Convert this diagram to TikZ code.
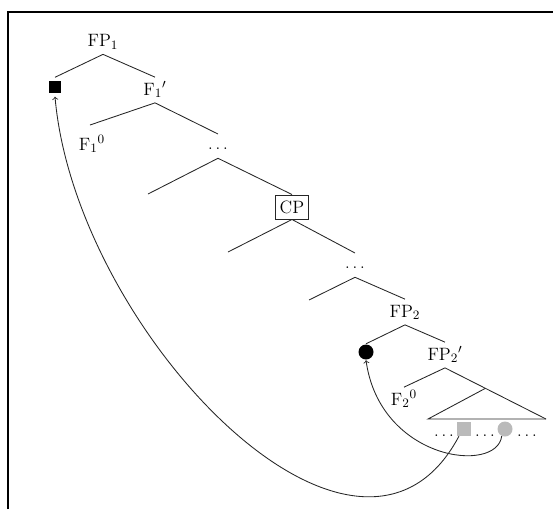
\documentclass[tikz,border=0pt]{standalone}
\begin{document}
\begin{tikzpicture}[x=0.7pt, y=-0.7pt, font=\fontsize{12.5}{15}\selectfont,
  lbl/.style={anchor=base, inner sep=2.3pt, text height=10pt, text depth=3pt},
  dotlbl/.style={anchor=base, inner sep=2.3pt, text height=8pt, text depth=4pt},
  branch/.style={black!85, line width=0.6pt},
  move/.style={black!85, line width=0.6pt, ->},
  blacksq/.style={fill=black, minimum size=9pt, inner sep=0pt, outer sep=2.3pt},
  blackdot/.style={circle, fill=black, minimum size=10.5pt, inner sep=0pt, outer sep=0.5pt},
  graysq/.style={fill=black!27, minimum size=9.8pt, inner sep=0pt},
  graydot/.style={circle, fill=black!27, minimum size=10.5pt, inner sep=0pt}]
\useasboundingbox (0,0) rectangle (553,509);
\draw[line width=1.3pt] (8,509) -- (8,12) -- (553,12);
% upper tree
\node[lbl] (fp1) at (103,46.5) {FP$_1$};
\node[blacksq] (bsq) at (55,87) {};
\node[lbl] (f1bar) at (155,95) {F$_1{}'$};
\node[lbl] (f1zero) at (92,150) {F$_1{}^0$};
\coordinate (f1zerotop) at (90,125);
\node[dotlbl] (dots1) at (218,149) {$\dots$};
\coordinate (leftend1) at (148,194);
\node[draw, black!85, inner xsep=3pt, inner ysep=4pt, text=black] (cp) at (292,207) {CP};
\coordinate (leftend2) at (228,252);
\node[dotlbl] (dots2) at (355,268) {$\dots$};
\coordinate (leftend3) at (309,300);
\draw[branch] (fp1.south) -- (bsq.north);
\draw[branch] (fp1.south) -- (f1bar.north);
\draw[branch] (f1bar.south) -- (f1zerotop);
\draw[branch] (f1bar.south) -- (dots1.north);
\draw[branch] (dots1.south) -- (leftend1);
\draw[branch] (dots1.south) -- (cp.north);
\draw[branch] (cp.south) -- (leftend2);
\draw[branch] (cp.south) -- (dots2.north);
\draw[branch] (dots2.south) -- (leftend3);
% lower tree
\node[lbl] (fp2) at (405,317) {FP$_2$};
\node[blackdot] (bdot) at (366,352) {};
\node[lbl] (fp2bar) at (445,360) {FP$_2{}'$};
\node[lbl] (f2zero) at (404,405) {F$_2{}^0$};
\coordinate (trileft) at (428,419);
\coordinate (triright) at (546,419);
\draw[branch] (dots2.south) -- (fp2.north);
\draw[branch] (fp2.south) -- (bdot.north);
\draw[branch] (fp2.south) -- (fp2bar.north);
\draw[branch] (fp2bar.south) -- (f2zero.north);
\draw[branch] (fp2bar.south) -- coordinate[pos=0.4] (apex) (triright);
\draw[branch] (apex) -- (trileft) -- (triright);
% spelled-out string
\node[dotlbl] (dots3) at (444,436.5) {$\dots$};
\node[graysq] (gsq) at (464,429) {};
\node[dotlbl] (dots4) at (485,436.5) {$\dots$};
\node[graydot] (gdot) at (505,429) {};
\node[dotlbl] (dots5) at (527,436.5) {$\dots$};
% movement
\draw[move] (gsq.-125) to[out=-118, in=-85, out distance=150pt, in distance=165pt] (bsq.south);
\draw[move] (gdot.-115) to[out=-97, in=-82, out distance=27pt, in distance=71pt] (bdot.south);
\end{tikzpicture}
\end{document}
